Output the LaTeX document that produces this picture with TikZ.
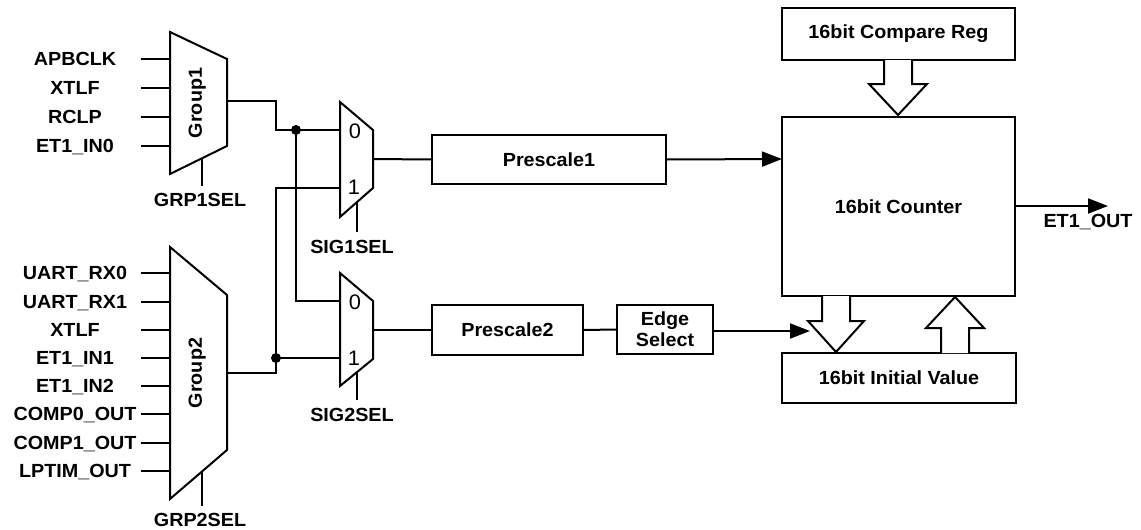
\documentclass[tikz,border=0pt]{standalone}
\usepackage{fontspec}
\setmainfont{Liberation Sans}[FakeStretch=1.04]
\usetikzlibrary{arrows.meta}
\begin{document}
\begin{tikzpicture}[x=1pt,y=-1pt,line width=2pt,line join=miter,
  lbl/.style={font=\fontsize{19}{21}\selectfont\bfseries,inner sep=0pt,text height=13.6pt,text depth=0pt},
  pinlbl/.style={font=\fontsize{21}{21}\selectfont,inner sep=0pt,text height=15pt,text depth=0pt},
  box/.style={draw,line width=2pt,inner sep=0pt,font=\fontsize{19}{24}\selectfont\bfseries,align=center},
  arr/.style={-{Triangle[length=20pt,width=15pt]}},
  dot/.style={circle,fill,inner sep=0pt,minimum size=10pt},
  hollow/.style={draw,fill=white,line width=2pt}
]
\useasboundingbox (0,0) rectangle (1141,530);

% ---------- Group1 mux ----------
\draw (170,32) -- (227,59) -- (227,146) -- (170,174) -- cycle;
\node[lbl,rotate=90] (g1lbl) at (195,103) {Group1};
\foreach \y/\t [count=\i] in {59/APBCLK,88/XTLF,117/RCLP,146/ET1\_IN0}{
  \node[lbl] (g1in\i) at (75,\y) {\t};
  \coordinate (g1s\i) at (141,\y);
  \coordinate (g1p\i) at (170,\y);
  \draw (g1s\i) -- (g1p\i);
}
\coordinate (g1sel) at (202,158.3);
\coordinate (g1selend) at (202,186);
\draw (g1sel) -- (g1selend);
\node[lbl] (grp1sel) at (200,200) {GRP1SEL};
\coordinate (g1out) at (227,101);

% ---------- Group2 mux ----------
\draw (170,247) -- (227,295) -- (227,450) -- (170,499) -- cycle;
\node[lbl,rotate=90] (g2lbl) at (195,373) {Group2};
\foreach \y/\t [count=\i] in {273/UART\_RX0,302/UART\_RX1,330/XTLF,358/ET1\_IN1,386/ET1\_IN2,414/COMP0\_OUT,443/COMP1\_OUT,471/LPTIM\_OUT}{
  \node[lbl] (g2in\i) at (75,\y) {\t};
  \coordinate (g2s\i) at (141,\y);
  \coordinate (g2p\i) at (170,\y);
  \draw (g2s\i) -- (g2p\i);
}
\coordinate (g2sel) at (202,471.5);
\coordinate (g2selend) at (202,506);
\draw (g2sel) -- (g2selend);
\node[lbl] (grp2sel) at (200,520) {GRP2SEL};
\coordinate (g2out) at (227,373);

% ---------- SIG1 mux ----------
\draw (340,102) -- (373,130) -- (373,188) -- (340,217) -- cycle;
\coordinate (s1i0) at (340,130);
\coordinate (s1i1) at (340,188);
\coordinate (s1out) at (373,159);
\node[pinlbl] (s1l0) at (355,131) {0};
\node[pinlbl] (s1l1) at (354,187) {1};
\coordinate (s1sel) at (357,202);
\coordinate (s1selend) at (357,232);
\draw (s1sel) -- (s1selend);
\node[lbl] (sig1sel) at (352,247) {SIG1SEL};

% ---------- SIG2 mux ----------
\draw (340,273) -- (373,301) -- (373,359) -- (340,386) -- cycle;
\coordinate (s2i0) at (340,301);
\coordinate (s2i1) at (340,358);
\coordinate (s2out) at (373,330);
\node[pinlbl] (s2l0) at (355,302) {0};
\node[pinlbl] (s2l1) at (354,358) {1};
\coordinate (s2sel) at (357,372);
\coordinate (s2selend) at (357,400);
\draw (s2sel) -- (s2selend);
\node[lbl] (sig2sel) at (352,415) {SIG2SEL};

% ---------- wiring between muxes ----------
\node[dot] (d1) at (296,130) {};
\node[dot] (d2) at (276,358) {};
\draw (g1out) -- (276,101) -- (276,130) -- (s1i0);
\draw (d1.center) -- (296,301) -- (s2i0);
\draw (s1i1) -- (276,188) -- (276,373) -- (g2out);
\draw (d2.center) -- (s2i1);

% ---------- Prescalers ----------
\node[box,minimum width=234pt,minimum height=49pt] (pre1) at (549,159.5) {Prescale1};
\node[box,minimum width=151pt,minimum height=50pt] (pre2) at (507.5,330) {Prescale2};
\node[box,minimum width=96pt,minimum height=49pt] (edge) at (665,329.5) {Edge\\[-3pt]Select};
\draw (s1out) -- (pre1.west);
\draw (s2out) -- (pre2.west);
\draw (pre2.east) -- (edge.west);

% ---------- Counter side ----------
\node[box,minimum width=233pt,minimum height=52pt] (cmp) at (898.5,34) {16bit Compare Reg};
\node[box,minimum width=233pt,minimum height=179pt] (cnt) at (898.5,206.5) {16bit Counter};
\node[box,minimum width=234pt,minimum height=50pt] (init) at (899,378) {16bit Initial Value};

\coordinate (cntin1) at (782,159);
\coordinate (cntin2) at (810,331);
\draw[arr] (pre1.east) -- (cntin1);
\draw[arr] (edge.east |- cntin2) -- (cntin2);

\coordinate (etout) at (1108,206);
\draw[arr] (cnt.east |- etout) -- (etout);
\node[lbl] (et1out) at (1088,221) {ET1\_OUT};

% hollow arrows
\draw[hollow] (884,60) -- (884,84) -- (869,84) -- (898,115) -- (927,84) -- (912,84) -- (912,60);
\draw[hollow] (822,296) -- (822,321) -- (808,321) -- (836,352) -- (864,321) -- (850,321) -- (850,296);
\draw[hollow] (941,353) -- (941,328) -- (926,328) -- (955,297) -- (984,328) -- (969,328) -- (969,353);
\end{tikzpicture}
\end{document}
